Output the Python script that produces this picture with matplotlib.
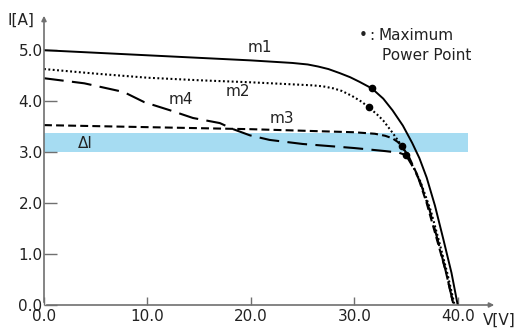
import matplotlib
matplotlib.use('Agg')
import matplotlib.pyplot as plt

# I-V curves (V in volts, I in amps)
m1_v = [0, 5, 10, 15, 20, 24, 25.5, 26.5, 27.5, 28.6, 29.6, 30.5, 31.7, 32.8, 33.7, 34.7, 35.6, 36.3, 37.0, 37.8, 38.6, 39.4, 40.0]
m1_i = [5.00, 4.95, 4.90, 4.85, 4.80, 4.75, 4.72, 4.68, 4.63, 4.55, 4.47, 4.38, 4.25, 4.05, 3.82, 3.52, 3.18, 2.88, 2.50, 1.95, 1.30, 0.63, 0.0]

m2_v = [0, 5, 10, 15, 20, 24, 26, 27, 28, 28.8, 29.8, 30.7, 31.4, 32.2, 32.8, 33.7, 34.6, 35.6, 36.4, 37.4, 38.2, 39.0, 39.7]
m2_i = [4.63, 4.54, 4.46, 4.41, 4.37, 4.33, 4.31, 4.29, 4.25, 4.20, 4.10, 3.99, 3.88, 3.74, 3.62, 3.38, 3.12, 2.75, 2.42, 1.85, 1.25, 0.62, 0.0]

m3_v = [0, 5, 10, 15, 20, 25, 30, 32, 33, 33.7, 34.2, 34.6, 35.3, 36.1, 37.0, 37.9, 38.8, 39.6]
m3_i = [3.53, 3.51, 3.49, 3.47, 3.45, 3.42, 3.39, 3.36, 3.32, 3.27, 3.20, 3.12, 2.90, 2.55, 2.00, 1.35, 0.70, 0.0]

m4_v = [0, 3.9, 7.7, 9.7, 12.2, 14.4, 17.0, 18.3, 19.9, 21.8, 25, 30, 33, 34.3, 35.0, 35.7, 36.4, 37.3, 38.1, 38.9, 39.6]
m4_i = [4.45, 4.35, 4.18, 3.98, 3.82, 3.67, 3.57, 3.45, 3.33, 3.24, 3.16, 3.08, 3.02, 2.99, 2.94, 2.70, 2.40, 1.85, 1.25, 0.62, 0.0]

# maximum power points
mpp_v = [31.7, 31.4, 34.6, 35.0]
mpp_i = [4.25, 3.88, 3.12, 2.94]

# delta I band
band_v = [0, 41.0]
band_lo, band_hi = 3.0, 3.37

x_ticks = [0, 10, 20, 30, 40]
x_labels = ['0.0', '10.0', '20.0', '30.0', '40.0']
y_ticks = [0, 1, 2, 3, 4, 5]
y_labels = ['0.0', '1.0', '2.0', '3.0', '4.0', '5.0']

plt.rcParams['font.family'] = ['DejaVu Sans']
txt = '#222222'
axc = '#707070'

fig = plt.figure(figsize=(5.17, 3.30), dpi=100)
ax = fig.add_axes([44 / 517, 25 / 330, 453 / 517, 292 / 330])
ax.set_xlim(0, 43.8)
ax.set_ylim(0, 5.73)

ax.fill_between(band_v, band_lo, band_hi, color='#a6dcf2', lw=0, zorder=1)

ax.plot(m1_v, m1_i, color='black', lw=1.4, zorder=3)
ax.plot(m2_v, m2_i, color='black', lw=1.5, ls=(0, (0.9, 1.2)), zorder=3)
ax.plot(m3_v, m3_i, color='black', lw=1.5, ls=(0, (3.8, 2.0)), zorder=3)
ax.plot(m4_v, m4_i, color='black', lw=1.5, ls=(0, (9.5, 4.0)), zorder=3)
ax.plot(mpp_v, mpp_i, 'o', color='black', ms=4.5, zorder=4)

for s in ax.spines.values():
    s.set_visible(False)
# axes with arrow heads
ax.annotate('', xy=(1, 0), xytext=(0, 0), xycoords='axes fraction',
            arrowprops=dict(arrowstyle='-|>', color=axc, lw=1.2, mutation_scale=7))
ax.annotate('', xy=(0, 1), xytext=(0, 0), xycoords='axes fraction',
            arrowprops=dict(arrowstyle='-|>', color=axc, lw=1.2, mutation_scale=7))

ax.set_xticks(x_ticks, x_labels)
ax.set_yticks(y_ticks, y_labels)
ax.tick_params(axis='x', direction='in', length=6, width=1, color=axc,
               labelsize=11, labelcolor=txt, pad=3)
ax.tick_params(axis='y', direction='in', length=9.5, width=1, color=axc,
               labelsize=11, labelcolor=txt, pad=1)

ax.text(20.9, 4.91, 'm1', fontsize=11, color=txt, ha='center', va='bottom')
ax.text(18.7, 4.05, 'm2', fontsize=11, color=txt, ha='center', va='bottom')
ax.text(23.0, 3.52, 'm3', fontsize=11, color=txt, ha='center', va='bottom')
ax.text(13.2, 3.88, 'm4', fontsize=11, color=txt, ha='center', va='bottom')
ax.text(3.3, 3.03, 'ΔI', fontsize=11, color=txt, ha='left', va='bottom')

fig.text(359 / 517, 1 - 36 / 330, '•', fontsize=11, color=txt, ha='left', va='center')
fig.text(369 / 517, 1 - 36 / 330, ':', fontsize=11, color=txt, ha='left', va='center')
fig.text(379 / 517, 1 - 36 / 330, 'Maximum', fontsize=11, color=txt, ha='left', va='center')
fig.text(382 / 517, 1 - 56 / 330, 'Power Point', fontsize=11, color=txt, ha='left', va='center')
fig.text(21 / 517, 1 - 20 / 330, 'I[A]', fontsize=11, color=txt, ha='center', va='center')
fig.text(499 / 517, 1 - 320 / 330, 'V[V]', fontsize=11, color=txt, ha='center', va='center')

fig.savefig('out.png', dpi=100)
